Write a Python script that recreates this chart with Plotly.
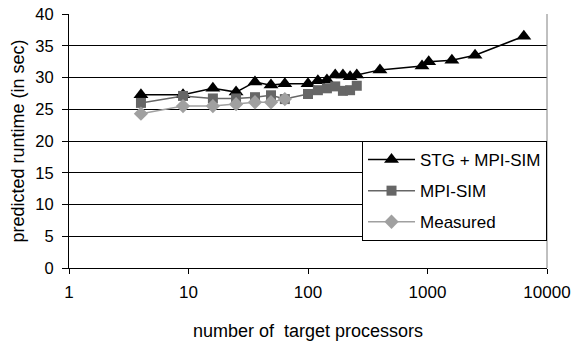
import plotly.graph_objects as go

# Number of target processors (square configurations)
procs_stg = [4, 9, 16, 25, 36, 49, 64, 100, 121, 144, 169, 196, 225, 256,
             400, 900, 1024, 1600, 2500, 6400]
runtime_stg = [27.3, 27.3, 28.3, 27.7, 29.3, 28.8, 29.0, 29.0, 29.5, 29.6,
               30.4, 30.4, 30.1, 30.4, 31.2, 31.8, 32.5, 32.7, 33.5, 36.5]

procs_mpisim = [4, 9, 16, 25, 36, 49, 64, 100, 121, 144, 169, 196, 225, 256]
runtime_mpisim = [26.0, 27.1, 26.7, 26.7, 26.9, 27.2, 26.6, 27.4, 28.0, 28.3,
                  28.6, 27.9, 28.0, 28.7]

procs_measured = [4, 9, 16, 25, 36, 49, 64]
runtime_measured = [24.3, 25.5, 25.5, 25.8, 26.1, 26.1, 26.6]

x_ticks = [1, 10, 100, 1000, 10000]
x_tick_text = ["1", "10", "100", "1000", "10000"]

FONT = "Liberation Sans, Arial, sans-serif"

fig = go.Figure()
fig.add_trace(go.Scatter(
    x=procs_stg, y=runtime_stg, name="STG + MPI-SIM", mode="lines+markers",
    legendgroup="stg",
    line=dict(color="#000000", width=1.5),
    marker=dict(symbol="triangle-up", size=13, color="#000000"),
))
fig.add_trace(go.Scatter(
    x=procs_mpisim, y=runtime_mpisim, name="MPI-SIM", mode="lines+markers",
    legendgroup="mpisim",
    line=dict(color="#666666", width=1.5),
    marker=dict(symbol="square", size=10, color="#666666"),
))
fig.add_trace(go.Scatter(
    x=procs_measured, y=runtime_measured, name="Measured", mode="lines+markers",
    legendgroup="measured",
    line=dict(color="#a0a0a0", width=1.5),
    marker=dict(symbol="diamond", size=11, color="#a0a0a0"),
))

# thin grey frame line on the right side of the plot area
fig.add_shape(type="line", xref="paper", yref="paper", x0=1, x1=1, y0=0, y1=1,
              line=dict(color="#808080", width=1))

fig.update_layout(
    width=581, height=343,
    margin=dict(l=69, r=34, t=14, b=75),
    paper_bgcolor="white", plot_bgcolor="white",
    font=dict(family=FONT, size=16, color="#000000"),
    showlegend=True,
    legend=dict(
        x=0.613, y=0.5, xanchor="left", yanchor="top",
        bgcolor="white", bordercolor="#000000", borderwidth=1,
        font=dict(family=FONT, size=17, color="#000000"),
        tracegroupgap=6,
        itemwidth=47,
    ),
    xaxis=dict(
        type="log", range=[0, 4], automargin=False,
        tickvals=x_ticks, ticktext=x_tick_text,
        showgrid=False, zeroline=False,
        showline=True, linecolor="#000000", linewidth=1,
        ticks="outside", ticklen=5, tickcolor="#000000",
        tickfont=dict(size=17),
        ticklabelstandoff=4,
        title=dict(text="number of\u00a0 target processors", font=dict(size=18), standoff=22),
    ),
    yaxis=dict(
        range=[0, 40], dtick=5, automargin=False,
        showgrid=True, gridcolor="#000000", gridwidth=1,
        zeroline=False,
        showline=True, linecolor="#000000", linewidth=1,
        ticks="outside", ticklen=6, tickcolor="#000000",
        tickfont=dict(size=16.5),
        ticklabelstandoff=5,
        title=dict(text="predicted runtime (in sec)", font=dict(size=18), standoff=6),
    ),
)

fig.write_html("out.html")
